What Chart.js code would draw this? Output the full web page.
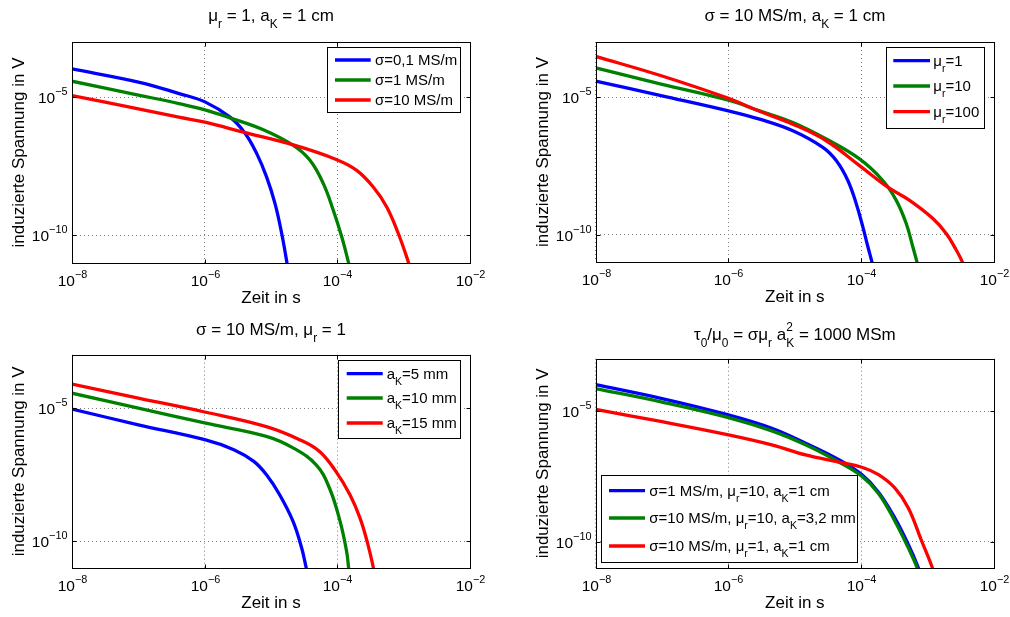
<!DOCTYPE html>
<html>
<head>
<meta charset="utf-8">
<script src="https://cdn.jsdelivr.net/npm/chart.js@4/dist/chart.umd.min.js"></script>
<style>
  body { margin: 0; background: #fff; }
  #fig { position: relative; width: 1010px; height: 617px; }
  canvas { position: absolute; }
</style>
</head>
<body>
<div id="fig">
  <canvas id="c1" width="505" height="308" style="left:0;top:0"></canvas>
  <canvas id="c2" width="505" height="308" style="left:505px;top:0"></canvas>
  <canvas id="c3" width="505" height="309" style="left:0;top:308px"></canvas>
  <canvas id="c4" width="505" height="309" style="left:505px;top:308px"></canvas>
</div>
<script>
// Achsen
const xTicks = [1e-8, 1e-6, 1e-4, 1e-2];
const yTicks = [1e-10, 1e-5];
const xRange = [1e-8, 1e-2];
const yRange = [1e-11, 1e-3];
const lineColors = ['#0000ff', '#008000', '#ff0000'];
const LW = 3.3;

// Bild 1: mu_r = 1, a_K = 1 cm
const t1a = [1e-8, 1e-7, 4.25e-7, 1.01e-6, 2.41e-6, 4.06e-6, 6.1e-6, 8.6e-6, 1.15e-5, 1.45e-5, 1.73e-5, 1.82e-5];
const u1a = [1.06e-4, 3.55e-5, 1.33e-5, 6.8e-6, 1.9e-6, 5.0e-7, 9.1e-8, 1.29e-8, 1.41e-9, 1.17e-10, 1.1e-11, 5e-12];
const t1b = [1e-8, 1e-7, 4.25e-7, 1.01e-6, 2.41e-6, 7.66e-6, 2.17e-5, 3.87e-5, 6.15e-5, 8.69e-5, 1.164e-4, 1.466e-4, 1.55e-4];
const u1b = [3.8e-5, 1.2e-5, 5.78e-6, 3.5e-6, 1.8e-6, 6.65e-7, 1.8e-7, 5.2e-8, 7.5e-9, 8.1e-10, 8.9e-11, 1.1e-11, 6e-12];
const t1c = [1e-8, 1e-7, 4.25e-7, 1.01e-6, 3.83e-6, 2.3e-5, 9.8e-5, 1.96e-4, 3.48e-4, 5.55e-4, 8.3e-4, 1.175e-3, 1.25e-3];
const u1c = [1.15e-5, 3.8e-6, 1.86e-6, 1.25e-6, 5.45e-7, 1.8e-7, 5.5e-8, 2.26e-8, 5.64e-9, 1.07e-9, 1.17e-10, 1.1e-11, 6e-12];
const labels1 = ['σ=0,1 MS/m', 'σ=1 MS/m', 'σ=10 MS/m'];

// Bild 2: sigma = 10 MS/m, a_K = 1 cm
const t2a = [1e-8, 1e-7, 1e-6, 2.94e-6, 9.33e-6, 2.64e-5, 4.2e-5, 6.28e-5, 8.41e-5, 1.057e-4, 1.26e-4, 1.445e-4, 1.51e-4];
const u2a = [3.8e-5, 1.1e-5, 3.12e-6, 1.56e-6, 5.9e-7, 1.47e-7, 4.86e-8, 9.2e-9, 1.32e-9, 1.89e-10, 3.58e-11, 1.03e-11, 6e-12];
const t2b = [1e-8, 1e-7, 1e-6, 2.94e-6, 9.33e-6, 2.97e-5, 9.42e-5, 2.11e-4, 3.37e-4, 4.76e-4, 5.98e-4, 6.89e-4, 7.24e-4];
const u2b = [1.15e-4, 2.9e-5, 7.6e-6, 3.12e-6, 1.18e-6, 2.96e-7, 5.6e-8, 9.2e-9, 1.74e-9, 2.5e-10, 3.57e-11, 1.03e-11, 6e-12];
const t2c = [1e-8, 1e-7, 1e-6, 2.94e-6, 9.33e-6, 2.97e-5, 9.42e-5, 2.51e-4, 5.35e-4, 1.2e-3, 1.905e-3, 2.7e-3, 3.32e-3, 3.55e-3];
const u2c = [3.0e-4, 5.8e-5, 8.9e-6, 3.02e-6, 1.03e-6, 2.57e-7, 3.2e-8, 5.27e-9, 1.74e-9, 3.8e-10, 1.09e-10, 2.72e-11, 1.03e-11, 6e-12];
const labels2 = ['μ_{r}=1', 'μ_{r}=10', 'μ_{r}=100'];

// Bild 3: sigma = 10 MS/m, mu_r = 1
const t3a = [1e-8, 1e-7, 1e-6, 2.75e-6, 5.5e-6, 8.5e-6, 1.35e-5, 2.15e-5, 2.9e-5, 3.4e-5, 3.55e-5];
const u3a = [9.1e-6, 2.35e-6, 6.5e-7, 2.75e-7, 1.0e-7, 3.2e-8, 5.6e-9, 5.6e-10, 5.6e-11, 1.0e-11, 6e-12];
const t3b = [1e-8, 1e-7, 1e-6, 8.5e-6, 2.15e-5, 4.8e-5, 7.6e-5, 1.1e-4, 1.38e-4, 1.48e-4, 1.51e-4];
const u3b = [3.6e-5, 1.0e-5, 2.75e-6, 8.7e-7, 3.2e-7, 7.4e-8, 1.0e-8, 5.6e-10, 4.2e-11, 1.0e-11, 6e-12];
const t3c = [1e-8, 1e-7, 1e-6, 8.5e-6, 2.7e-5, 5.4e-5, 9.5e-5, 1.55e-4, 2.2e-4, 2.9e-4, 3.5e-4, 3.63e-4];
const u3c = [7.9e-5, 2.35e-5, 7.1e-6, 2.0e-6, 6.5e-7, 2.35e-7, 4.2e-8, 5.6e-9, 7.4e-10, 7.4e-11, 1.0e-11, 6e-12];
const labels3 = ['a_{K}=5 mm', 'a_{K}=10 mm', 'a_{K}=15 mm'];

// Bild 4: tau_0/mu_0 = 1000 MSm
const t4a = [1e-8, 1e-7, 1e-6, 4.5e-6, 1.45e-5, 4.6e-5, 1.02e-4, 1.82e-4, 3.2e-4, 5.1e-4, 7.2e-4, 7.6e-4];
const u4a = [1.02e-4, 3.0e-5, 7.1e-6, 2.2e-6, 5.9e-7, 1.38e-7, 3.7e-8, 7.9e-9, 8.3e-10, 8.1e-11, 1.07e-11, 6e-12];
const t4b = [1e-8, 1e-7, 1e-6, 4.5e-6, 1.45e-5, 4.6e-5, 1.02e-4, 1.82e-4, 3.2e-4, 5.1e-4, 6.9e-4, 7.24e-4];
const u4b = [7.2e-5, 2.2e-5, 5.6e-6, 1.74e-6, 5.1e-7, 1.12e-7, 3.2e-8, 7.1e-9, 6.3e-10, 6.0e-11, 1.07e-11, 6e-12];
const t4c = [1e-8, 1e-7, 1e-6, 4.5e-6, 1.45e-5, 4.6e-5, 1.02e-4, 1.82e-4, 3.2e-4, 5.1e-4, 8.1e-4, 1.17e-3, 1.23e-3];
const u4c = [1.15e-5, 3.9e-6, 1.23e-6, 5.1e-7, 2.1e-7, 1.12e-7, 7.1e-8, 3.7e-8, 1.15e-8, 2.0e-9, 1.1e-10, 1.07e-11, 6e-12];
const labels4 = ['σ=1 MS/m, μ_{r}=10, a_{K}=1 cm', 'σ=10 MS/m, μ_{r}=10, a_{K}=3,2 mm', 'σ=10 MS/m, μ_{r}=1, a_{K}=1 cm'];

const FONT = '"Liberation Sans", Arial, Helvetica, sans-serif';

// kleiner Parser fuer Tief-/Hochstellung: a_{K}^{2}
function parseRich(s) {
    const segs = [];
    const re = /([_^])\{([^}]*)\}/g;
    let last = 0, m;
    while ((m = re.exec(s))) {
        if (m.index > last) segs.push({ t: s.slice(last, m.index), k: '' });
        segs.push({ t: m[2], k: m[1] });
        last = re.lastIndex;
    }
    if (last < s.length) segs.push({ t: s.slice(last), k: '' });
    return segs;
}

function layoutRich(ctx, s, size) {
    const segs = parseRich(s);
    const items = [];
    let x = 0, subStart = 0, subW = 0;
    segs.forEach((sg, i) => {
        const fs = sg.k ? size * 0.7 : size;
        ctx.font = fs + 'px ' + FONT;
        const w = ctx.measureText(sg.t).width;
        let sx = x;
        if (sg.k === '^' && i > 0 && segs[i - 1].k === '_') {
            sx = subStart;
            x = Math.max(subStart + subW, sx + w);
        } else {
            x += w;
        }
        if (sg.k === '_') { subStart = sx; subW = w; }
        items.push({ t: sg.t, k: sg.k, x: sx, fs: fs });
    });
    return { items: items, width: x };
}

function drawRich(ctx, s, x, y, size, align) {
    const L = layoutRich(ctx, s, size);
    const x0 = align === 'center' ? x - L.width / 2 : (align === 'right' ? x - L.width : x);
    ctx.textAlign = 'left';
    ctx.textBaseline = 'alphabetic';
    ctx.fillStyle = '#000';
    L.items.forEach(it => {
        ctx.font = it.fs + 'px ' + FONT;
        const dy = it.k === '_' ? size * 0.42 : (it.k === '^' ? -size * 0.5 : 0);
        ctx.fillText(it.t, x0 + it.x, y + dy);
    });
}

function tickText(v) {
    const e = Math.round(Math.log10(v));
    return '10^{' + String(e).replace('-', '\u2212') + '}';
}

function line(ctx, x1, y1, x2, y2) {
    ctx.beginPath();
    ctx.moveTo(x1, y1);
    ctx.lineTo(x2, y2);
    ctx.stroke();
}

// Rahmen, Ticks, Beschriftung und Legende im MATLAB-Stil
const matlabPlugin = {
    id: 'matlab',
    afterDraw(chart) {
        const o = chart.options.plugins.matlab;
        const ctx = chart.ctx;
        const a = chart.chartArea;
        const xs = chart.scales.x, ys = chart.scales.y;
        ctx.save();
        ctx.strokeStyle = '#000';
        ctx.lineWidth = 1;
        const L = Math.round(a.left) + 0.5, R = Math.round(a.right) + 0.5;
        const T = Math.round(a.top) + 0.5, B = Math.round(a.bottom) + 0.5;
        ctx.strokeRect(L, T, R - L, B - T);

        xTicks.forEach(v => {
            const px = Math.round(xs.getPixelForValue(v)) + 0.5;
            line(ctx, px, B, px, B - 4);
            line(ctx, px, T, px, T + 4);
            drawRich(ctx, tickText(v), px, B + 22, 15.5, 'center');
        });
        yTicks.forEach(v => {
            const py = Math.round(ys.getPixelForValue(v)) + 0.5;
            line(ctx, L, py, L + 4, py);
            line(ctx, R, py, R - 4, py);
            drawRich(ctx, tickText(v), L - 5, py + 5, 15.5, 'right');
        });

        drawRich(ctx, o.title, (a.left + a.right) / 2, o.titleY, 17, 'center');
        drawRich(ctx, 'Zeit in s', (a.left + a.right) / 2, a.bottom + 40, 17, 'center');
        ctx.save();
        ctx.translate(a.left - 48, (a.top + a.bottom) / 2);
        ctx.rotate(-Math.PI / 2);
        drawRich(ctx, 'induzierte Spannung in V', 0, 0, 17, 'center');
        ctx.restore();

        // Legende
        const lg = o.legend;
        ctx.fillStyle = '#fff';
        ctx.fillRect(lg.x, lg.y, lg.w, lg.h);
        ctx.strokeStyle = '#000';
        ctx.lineWidth = 1;
        ctx.strokeRect(Math.round(lg.x) + 0.5, Math.round(lg.y) + 0.5, Math.round(lg.w), Math.round(lg.h));
        chart.data.datasets.forEach((ds, i) => {
            const ry = lg.rows[i];
            ctx.strokeStyle = ds.borderColor;
            ctx.lineWidth = LW;
            line(ctx, lg.x1, ry, lg.x2, ry);
            drawRich(ctx, ds.label, lg.tx, ry + 5, 15, 'left');
        });
        ctx.restore();
    }
};

function pts(t, u) {
    return t.map((v, i) => ({ x: v, y: u[i] }));
}

function makePlot(id, series, labels, title, titleY, pad, legend) {
    const datasets = series.map((s, i) => ({
        label: labels[i],
        data: pts(s[0], s[1]),
        borderColor: lineColors[i],
        borderWidth: LW,
        pointRadius: 0,
        tension: 0.4,
        clip: 0,
        order: 3 - i
    }));
    return new Chart(document.getElementById(id).getContext('2d'), {
        type: 'line',
        data: { datasets: datasets },
        options: {
            responsive: false,
            animation: false,
            devicePixelRatio: 1,
            events: [],
            layout: { padding: pad, autoPadding: false },
            plugins: {
                legend: { display: false },
                tooltip: { enabled: false },
                matlab: { title: title, titleY: titleY, legend: legend }
            },
            scales: {
                x: {
                    type: 'logarithmic',
                    min: xRange[0], max: xRange[1],
                    afterBuildTicks: s => { s.ticks = xTicks.map(v => ({ value: v })); },
                    afterFit: s => { s.height = 0; },
                    ticks: { display: false },
                    grid: { drawTicks: false, color: '#808080', lineWidth: 1 },
                    border: { display: false, dash: [1, 3] }
                },
                y: {
                    type: 'logarithmic',
                    min: yRange[0], max: yRange[1],
                    afterBuildTicks: s => { s.ticks = yTicks.map(v => ({ value: v })); },
                    afterFit: s => { s.width = 0; },
                    ticks: { display: false },
                    grid: { drawTicks: false, color: '#808080', lineWidth: 1 },
                    border: { display: false, dash: [1, 3] }
                }
            }
        },
        plugins: [matlabPlugin]
    });
}

makePlot('c1', [[t1a, u1a], [t1b, u1b], [t1c, u1c]], labels1,
    'μ_{r} = 1, a_{K} = 1 cm', 21,
    { left: 72, top: 42, right: 35, bottom: 45 },
    { x: 327.3, y: 47.3, w: 133.4, h: 64.7, rows: [60, 80, 100], x1: 335, x2: 370.7, tx: 375 });

makePlot('c2', [[t2a, u2a], [t2b, u2b], [t2c, u2c]], labels2,
    'σ = 10 MS/m, a_{K} = 1 cm', 21,
    { left: 90.7, top: 42, right: 16, bottom: 46 },
    { x: 381, y: 46.7, w: 98, h: 81, rows: [60.7, 86, 111.7], x1: 388.3, x2: 425, tx: 428.3 });

makePlot('c3', [[t3a, u3a], [t3b, u3b], [t3c, u3c]], labels3,
    'σ = 10 MS/m, μ_{r} = 1', 26.7,
    { left: 72, top: 46.7, right: 35, bottom: 49 },
    { x: 338.3, y: 51.7, w: 122.4, h: 78.3, rows: [65.7, 90, 115], x1: 346.7, x2: 382.7, tx: 386.7 });

makePlot('c4', [[t4a, u4a], [t4b, u4b], [t4c, u4c]], labels4,
    'τ_{0}/μ_{0} = σμ_{r} a_{K}^{2} = 1000 MSm', 31.7,
    { left: 90.7, top: 50.7, right: 16, bottom: 49 },
    { x: 96, y: 167.3, w: 256.3, h: 87, rows: [182.7, 210, 238], x1: 104, x2: 140, tx: 144.3 });
</script>
</body>
</html>
